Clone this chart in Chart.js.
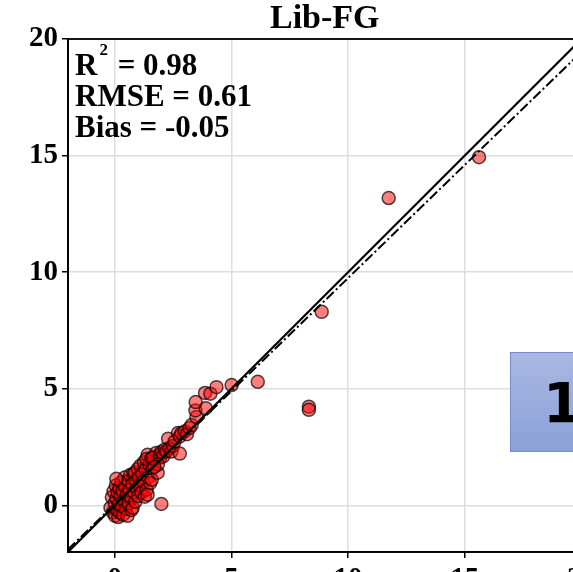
<!DOCTYPE html>
<html>

<head>
    <meta charset="UTF-8">
    <title>Lib-FG</title>
    <script src="https://cdn.jsdelivr.net/npm/chart.js@4.4.1/dist/chart.umd.min.js"></script>
    <style>
        body { margin: 0; overflow: hidden; background: #fff; }
        #wrap { position: relative; width: 573px; height: 572px; overflow: hidden; }
        #tag {
            position: absolute; left: 510px; top: 352px; width: 80px; height: 100px;
            background: linear-gradient(#a9b8e2, #8aa1d8);
            border: 1px solid #6f8dd0;
            box-sizing: border-box;
        }
        #tag span {
            position: absolute; left: 32px; top: 22px;
            font: bold 56px "DejaVu Sans", sans-serif; color: #000; line-height: 1;
        }
    </style>
</head>

<body>
    <div id="wrap">
        <canvas id="chart" width="600" height="600"></canvas>
        <div id="tag"><span>1</span></div>
    </div>
    <script>
        // observed vs estimated values
        const obs = [
            -0.18, -0.12, -0.08, -0.05, 0.00, 0.02, 0.05, 0.08, 0.10, 0.12,
            0.15, 0.18, 0.20, 0.22, 0.25, 0.28, 0.30, 0.33, 0.36, 0.40,
            0.43, 0.45, 0.48, 0.52, 0.55, 0.58, 0.60, 0.63, 0.66, 0.70,
            0.72, 0.75, 0.77, 0.80, 0.83, 0.86, 0.88, 0.91, 0.95, 0.98,
            1.00, 1.04, 1.08, 1.10, 1.14, 1.18, 1.22, 1.25, 1.29, 1.32,
            1.37, 1.41, 1.44, 1.48, 1.52, 1.59, 1.62, 1.71, 1.78, 1.84,
            1.36, 1.57, 1.65, 1.93, 1.95, 2.00, 2.08, 2.15, 2.21, 2.29,
            2.35, 2.43, 2.50, 2.57, 2.71, 2.79, 2.79, 2.86, 3.00, 3.10,
            3.21, 3.30, 1.85, 1.70, 1.41,
            3.50, 3.46, 3.90, 3.47, 3.87, 4.10, 4.36, 5.01, 6.13, 8.32,
            8.32, 8.87, 11.74, 15.61, 2.00, 0.07
        ];
        const est = [
            -0.10, 0.35, -0.30, 0.60, 0.10, -0.45, 0.85, 0.30, -0.20, 0.55,
            -0.50, 0.05, 0.75, -0.30, 0.40, 1.00, -0.05, 0.60, -0.40, 0.20,
            1.19, 0.80, -0.15, 0.45, -0.45, 1.05, 0.10, 0.65, 1.30, 0.35,
            -0.20, 0.90, -0.10, 1.35, 0.55, 1.40, 0.15, 1.05, 0.70, 1.55,
            0.40, 1.20, 0.85, 1.70, 0.55, 1.35, 1.00, 1.85, 0.37, 1.55,
            0.67, 2.17, 1.20, 1.75, 0.95, 1.10, 1.60, 1.96, 2.25, 1.40,
            1.99, 2.03, 2.05, 2.17, 2.05, 2.30, 2.10, 2.40, 2.31, 2.86,
            2.45, 2.31, 2.55, 2.74, 3.10, 2.22, 2.96, 3.10, 3.17, 3.05,
            3.32, 3.45, 1.75, 1.65, 0.46,
            3.79, 4.07, 4.17, 4.43, 4.82, 4.79, 5.07, 5.16, 5.30, 4.23,
            4.10, 8.30, 13.18, 14.93, 0.06, 1.14
        ];

        const axisMin = -2;
        const axisMax = 20;
        const tickVals = [0, 5, 10, 15, 20];
        const fitSlope = 0.97;
        const fitIntercept = 0.05;
        const stats = [['R', '2', ' = 0.98'], ['RMSE = 0.61'], ['Bias = -0.05']];

        const serif = '"Liberation Serif", "Times New Roman", serif';

        // frame around the plot area plus the stats text
        const frame = {
            id: 'frame',
            afterDraw(chart) {
                const { ctx, chartArea: a } = chart;
                ctx.save();
                ctx.strokeStyle = '#000';
                ctx.lineWidth = 1.8;
                ctx.strokeRect(a.left, a.top, a.right - a.left, a.bottom - a.top);

                ctx.fillStyle = '#000';
                ctx.textBaseline = 'alphabetic';
                let x = a.left + 7;
                let y = a.top + 36;
                ctx.font = 'bold 31px ' + serif;
                ctx.fillText(stats[0][0], x, y);
                x += ctx.measureText(stats[0][0]).width + 2;
                ctx.font = 'bold 17px ' + serif;
                ctx.fillText(stats[0][1], x, y - 20);
                x += ctx.measureText(stats[0][1]).width + 2;
                ctx.font = 'bold 31px ' + serif;
                ctx.fillText(stats[0][2], x, y);
                ctx.fillText(stats[1][0], a.left + 7, y + 31);
                ctx.fillText(stats[2][0], a.left + 7, y + 62);
                ctx.restore();
            }
        };

        const points = obs.map((v, i) => ({ x: v, y: est[i] }));
        const oneToOne = [{ x: axisMin, y: axisMin }, { x: axisMax, y: axisMax }];
        const fitLine = [axisMin, axisMax].map(v => ({ x: v, y: fitSlope * v + fitIntercept }));

        function axis(pos, fit) {
            return {
                type: 'linear',
                position: pos,
                min: axisMin,
                max: axisMax,
                afterBuildTicks: s => { s.ticks = tickVals.map(v => ({ value: v })); },
                afterFit: fit,
                grid: { color: '#dddddd', lineWidth: 1.5, tickColor: '#000', tickLength: 6, tickWidth: 1.5 },
                border: { color: '#000', width: 1.8 },
                ticks: { color: '#000', font: { family: serif, size: 29, weight: 'bold' }, padding: 4, maxRotation: 0 }
            };
        }

        new Chart(document.getElementById('chart'), {
            type: 'scatter',
            data: {
                datasets: [{
                    data: points,
                    backgroundColor: 'rgba(255,0,0,0.5)',
                    borderColor: 'rgba(0,0,0,0.7)',
                    borderWidth: 1.5,
                    pointRadius: 6.5,
                    order: 2
                }, {
                    type: 'line',
                    data: oneToOne,
                    borderColor: '#000',
                    borderWidth: 2.2,
                    pointRadius: 0,
                    order: 1
                }, {
                    type: 'line',
                    data: fitLine,
                    borderColor: '#000',
                    borderWidth: 2,
                    borderDash: [10, 3, 2, 3],
                    pointRadius: 0,
                    order: 0
                }]
            },
            options: {
                responsive: false,
                animation: false,
                layout: { padding: { left: 0, right: 18, top: 0, bottom: 0 } },
                plugins: {
                    legend: { display: false },
                    tooltip: { enabled: false },
                    title: {
                        display: true,
                        text: 'Lib-FG',
                        fullSize: false,
                        color: '#000',
                        font: { family: serif, size: 34, weight: 'bold', lineHeight: 1 },
                        padding: { top: 2, bottom: 3 }
                    }
                },
                scales: {
                    x: axis('bottom', s => { s.height = 48; }),
                    y: axis('left', s => { s.width = 68; })
                }
            },
            plugins: [frame]
        });
    </script>
</body>

</html>
